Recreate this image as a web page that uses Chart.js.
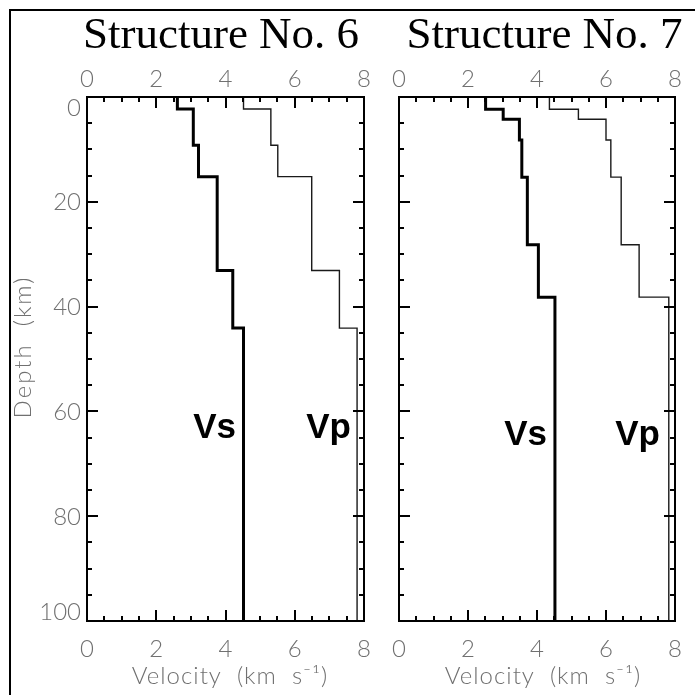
<!DOCTYPE html>
<html>
<head>
<meta charset="utf-8">
<script src="https://cdn.jsdelivr.net/npm/chart.js@4/dist/chart.umd.min.js"></script>
<style>
  html, body { margin: 0; padding: 0; background: #fff; }
  #wrap  { position: relative; width: 695px; height: 695px; overflow: hidden; }
  #frame { position: absolute; left: 9px; top: 9px; width: 720px; height: 720px;
           border-left: 2px solid #000; border-top: 2px solid #000; }
  .panel { position: absolute; top: 0; }
</style>
</head>
<body>
<div id="wrap">
  <div id="frame"></div>
  <canvas id="c6" class="panel" width="380" height="695" style="left:0"></canvas>
  <canvas id="c7" class="panel" width="315" height="695" style="left:380px"></canvas>
</div>
<script>
// ── DATA ──
// layer top depths (km) and velocities (km/s) per layer
const s6Top = [0, 2.3, 9.2, 15.2, 33.1, 44.1]
const s6Vs  = [2.61, 3.07, 3.22, 3.76, 4.21, 4.52]
const s6Vp  = [4.52, 5.31, 5.51, 6.49, 7.29, 7.80]

const s7Top = [0, 2.35, 4.26, 8.2, 15.3, 28.2, 38.2]
const s7Vs  = [2.51, 3.02, 3.49, 3.56, 3.72, 4.04, 4.52]
const s7Vp  = [4.36, 5.20, 6.00, 6.14, 6.44, 6.96, 7.82]

const maxDepth    = 100
const velTicks    = [0, 2, 4, 6, 8]
const depthTicks  = [0, 20, 40, 60, 80, 100]
const velMinor    = 0.5
const depthMinor  = 5

// profile points: one per layer top, plus the bottom of the last layer
function profile(tops, vel) {
  const pts = tops.map((d, i) => ({ x: vel[i], y: d }))
  pts.push({ x: vel[vel.length - 1], y: maxDepth })
  return pts
}

const LABEL_FONT = '300 24px Lato'
const LABEL_COL  = '#707070'

const profileAxes = {
  id: 'profileAxes',
  afterDraw(chart, args, o) {
    const { ctx, chartArea: a, scales: { x, y } } = chart
    ctx.save()

    // tick marks, pointing inward on all four sides
    ctx.strokeStyle = '#000'
    ctx.lineWidth = 2
    ctx.beginPath()
    for (let v = 0; v <= 8; v += velMinor) {
      const px = Math.round(x.getPixelForValue(v))
      const len = velTicks.includes(v) ? 11 : 5
      ctx.moveTo(px, a.top);    ctx.lineTo(px, a.top + len)
      ctx.moveTo(px, a.bottom); ctx.lineTo(px, a.bottom - len)
    }
    for (let d = 0; d <= maxDepth; d += depthMinor) {
      const py = Math.round(y.getPixelForValue(d))
      const len = depthTicks.includes(d) ? 11 : 5
      ctx.moveTo(a.left, py);  ctx.lineTo(a.left + len, py)
      ctx.moveTo(a.right, py); ctx.lineTo(a.right - len, py)
    }
    ctx.stroke()
    ctx.strokeRect(a.left, a.top, a.right - a.left, a.bottom - a.top)

    // velocity tick labels, top and bottom
    ctx.font = LABEL_FONT
    ctx.fillStyle = LABEL_COL
    ctx.textAlign = 'center'
    ctx.textBaseline = 'alphabetic'
    velTicks.forEach(v => {
      const px = x.getPixelForValue(v)
      ctx.fillText(String(v), px, a.top - 10)
      ctx.fillText(String(v), px, a.bottom + 36)
    })

    // depth tick labels (left panel only)
    if (o.depthLabels) {
      ctx.textAlign = 'right'
      depthTicks.forEach((d, i) => {
        const py = y.getPixelForValue(d)
        let base = py + 8.5
        if (i === 0) base = py + 19
        if (i === depthTicks.length - 1) base = py - 1
        ctx.fillText(String(d), a.left - 6, base)
      })
      ctx.save()
      ctx.translate(31, 347)
      ctx.rotate(-Math.PI / 2)
      ctx.textAlign = 'center'
      ctx.letterSpacing = '2px'
      ctx.fillText('Depth  (km)', 0, 0)
      ctx.restore()
    }

    // axis title below
    ctx.textAlign = 'center'
    ctx.letterSpacing = '1px'
    ctx.fillText('Velocity  (km  s\u207B\u00B9)', o.xTitleX, 684)
    ctx.letterSpacing = '0px'

    // panel title
    ctx.font = '45px "Liberation Serif"'
    ctx.fillStyle = '#000'
    ctx.fillText(o.title, o.titleX, 48)

    // curve labels
    ctx.font = 'bold 35px "Liberation Sans"'
    ctx.textAlign = 'right'
    o.tags.forEach(t => ctx.fillText(t.text, t.x, t.y))

    ctx.restore()
  }
}

function makePanel(id, tops, vs, vp, padding, o) {
  return new Chart(document.getElementById(id), {
    type: 'scatter',
    data: {
      datasets: [
        { label: 'Vs', data: profile(tops, vs), showLine: true, stepped: 'after',
          borderColor: '#000', borderWidth: 3, pointRadius: 0, clip: false },
        { label: 'Vp', data: profile(tops, vp), showLine: true, stepped: 'after',
          borderColor: '#1a1a1a', borderWidth: 1.4, pointRadius: 0, clip: false },
      ]
    },
    options: {
      responsive: false, animation: false,
      layout: { padding },
      plugins: { legend: { display: false }, tooltip: { enabled: false }, profileAxes: o },
      scales: {
        x: { type: 'linear', min: 0, max: 8, display: false },
        y: { type: 'linear', min: 0, max: maxDepth, reverse: true, display: false },
      },
    },
    plugins: [profileAxes],
  })
}

makePanel('c6', s6Top, s6Vs, s6Vp, { left: 87, right: 16, top: 97, bottom: 74 }, {
  title: 'Structure No. 6', titleX: 221, xTitleX: 230, depthLabels: true,
  tags: [{ text: 'Vs', x: 236, y: 438 }, { text: 'Vp', x: 351, y: 438 }],
})

makePanel('c7', s7Top, s7Vs, s7Vp, { left: 19, right: 20, top: 97, bottom: 74 }, {
  title: 'Structure No. 7', titleX: 164.5, xTitleX: 163, depthLabels: false,
  tags: [{ text: 'Vs', x: 167, y: 445 }, { text: 'Vp', x: 280, y: 445 }],
})
</script>
</body>
</html>
